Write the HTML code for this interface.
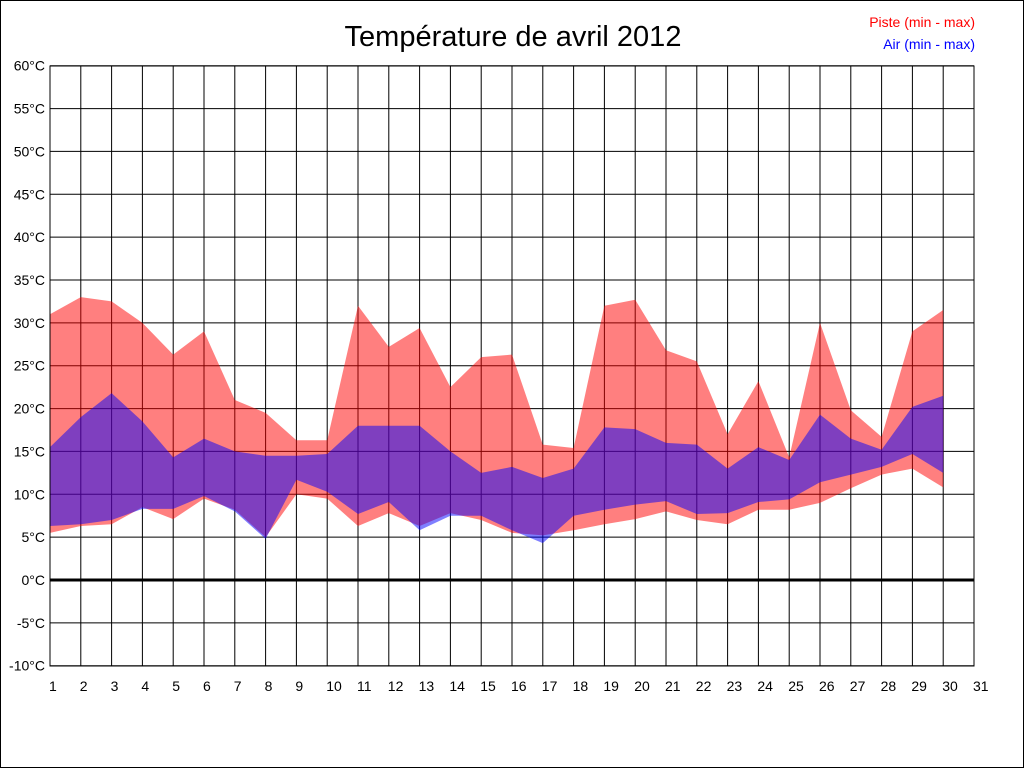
<!DOCTYPE html>
<html><head><meta charset="utf-8"><style>
html,body{margin:0;padding:0;background:#fff}
svg{display:block}
text{font-family:"Liberation Sans",sans-serif}
</style></head><body>
<svg id="s" width="1024" height="768" xmlns="http://www.w3.org/2000/svg">
<rect x="0.5" y="0.5" width="1023" height="767" fill="#fff" stroke="#000"/>
<text x="513" y="46" font-size="29" text-anchor="middle">Température de avril 2012</text>
<text x="975" y="27" font-size="14" text-anchor="end" fill="#f00">Piste (min - max)</text>
<text x="975" y="49" font-size="14" text-anchor="end" fill="#00f">Air (min - max)</text>
<g id="g"></g>
</svg>
<script>
var g=document.getElementById('g'),h='';
function X(d){return 50+(d-1)*30.8}
function Y(t){return 580-t*600/70}
for(var t=-10;t<=60;t+=5){var y=Y(t);h+='<line x1="50" x2="974" y1="'+y+'" y2="'+y+'" stroke="#000" stroke-width="1"/>';
h+='<text x="45" y="'+(y+5)+'" font-size="14" text-anchor="end">'+t+'°C</text>';}
for(var d=1;d<=31;d++){var x=X(d);h+='<line x1="'+x+'" x2="'+x+'" y1="66" y2="666" stroke="#000" stroke-width="1"/>';
h+='<text x="'+(x-1)+'" y="691" font-size="14">'+d+'</text>';}
var pM=[31,33,32.5,30,26.3,29,21,19.5,16.3,16.3,32,27.2,29.4,22.5,26,26.3,15.8,15.4,32,32.7,26.8,25.5,17,23.2,14.3,30,19.8,16.7,29,31.5];
var pm=[5.5,6.3,6.5,8.5,7.1,9.5,8.2,5,10,9.5,6.3,7.8,6.3,7.8,7,5.5,5.2,5.8,6.5,7.1,8,7,6.5,8.2,8.2,9,10.7,12.3,13,10.8];
var aM=[15.5,19,21.8,18.5,14.3,16.5,15,14.5,14.5,14.7,18,18,18,15,12.5,13.2,11.9,13,17.8,17.6,16,15.8,13,15.5,14,19.3,16.5,15.2,20.2,21.5];
var am=[6.3,6.5,7,8.3,8.3,9.8,8,4.8,11.7,10.3,7.7,9.1,5.8,7.5,7.5,5.8,4.3,7.5,8.2,8.8,9.2,7.7,7.8,9.1,9.4,11.4,12.3,13.2,14.7,12.5];
function poly(M,m,c){var p=[];for(var i=0;i<M.length;i++)p.push(X(i+1)+','+Y(M[i]));for(var i=m.length-1;i>=0;i--)p.push(X(i+1)+','+Y(m[i]));
return '<polygon points="'+p.join(' ')+'" fill="'+c+'" fill-opacity="0.5"/>';}
h+=poly(pM,pm,'#f00');h+=poly(aM,am,'#00f');
h+='<line x1="50" x2="974" y1="580" y2="580" stroke="#000" stroke-width="3"/>';
h+='<rect x="50" y="66" width="924" height="600" fill="none" stroke="#000"/>';
g.innerHTML=h;
</script>
</body></html>
